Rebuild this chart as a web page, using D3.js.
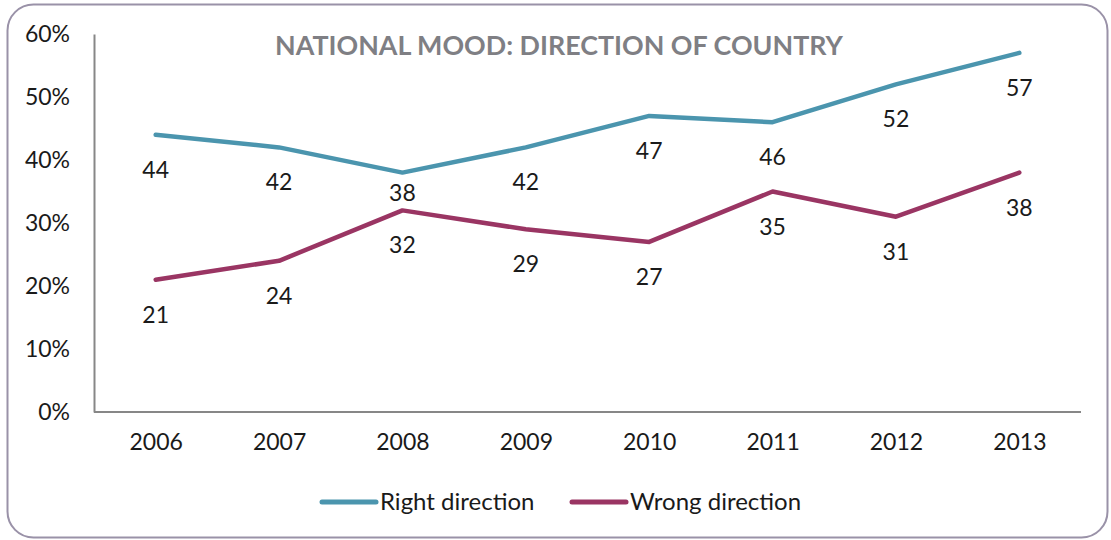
<!DOCTYPE html>
<html><head><meta charset="utf-8">
<script src="https://cdn.jsdelivr.net/npm/d3@7"></script>
<style>body{margin:0;background:#fff}svg{display:block}text{font-family:Lato,"Open Sans",sans-serif}</style>
</head><body><svg id="c" width="1111" height="540"></svg>
<script>
const years = ["2006","2007","2008","2009","2010","2011","2012","2013"];
const rightDirection = [44,42,38,42,47,46,52,57];
const wrongDirection = [21,24,32,29,27,35,31,38];
const yTicks = [0,10,20,30,40,50,60];
const seriesNames = ["Right direction","Wrong direction"];
const colors = ["#4B95AE","#9A3563"];
const title = "NATIONAL MOOD: DIRECTION OF COUNTRY";

const svg = d3.select("#c");
svg.append("rect").attr("x",7.5).attr("y",4.5).attr("width",1100).attr("height",533).attr("rx",26)
  .attr("fill","#fff").attr("stroke","#9A92A8").attr("stroke-width",2);

const x = d3.scalePoint().domain(years).range([94,1081]).padding(0.5);
const y = d3.scaleLinear().domain([0,60]).range([412,34]);
const fs = 23;

const yAxis = svg.append("g").attr("transform","translate(94,0)")
  .call(d3.axisLeft(y).tickValues(yTicks).tickFormat(d=>d+"%").tickSize(0).tickPadding(24));
yAxis.select(".domain").attr("stroke","#878787").attr("stroke-width",2);
yAxis.selectAll("text").attr("font-size",fs).attr("fill","#1a1a1a").attr("font-family","Lato");

const xAxis = svg.append("g").attr("transform","translate(0,412)")
  .call(d3.axisBottom(x).tickSize(0).tickPadding(22));
xAxis.select(".domain").attr("stroke","#878787").attr("stroke-width",2).attr("d","M94,0H1081");
xAxis.selectAll("text").attr("font-size",fs).attr("fill","#1a1a1a").attr("font-family","Lato");

svg.append("text").attr("x",559).attr("y",55).attr("text-anchor","middle")
  .attr("font-size",26).attr("font-weight","bold").attr("fill","#7F7F84")
  .attr("textLength",568).attr("lengthAdjust","spacingAndGlyphs").text(title);

const series = [rightDirection, wrongDirection];
const line = d3.line().x((d,i)=>x(years[i])).y(d=>y(d));
series.forEach((s,k)=>{
  const other = series[1-k];
  svg.append("path").datum(s).attr("d",line).attr("fill","none")
    .attr("stroke",colors[k]).attr("stroke-width",4.5).attr("stroke-linejoin","round").attr("stroke-linecap","round");
  svg.append("g").selectAll("text").data(s).join("text")
    .attr("x",(d,i)=>x(years[i]))
    .attr("y",(d,i)=>{
      const gap = y(other[i]) - y(d);
      const off = (gap > 0 && gap < 50) ? 20 : 35;
      return y(d)+off;
    })
    .attr("dy","0.35em")
    .attr("text-anchor","middle").attr("font-size",fs).attr("fill","#1a1a1a").text(d=>d);
});

const legendX = [322,572];
seriesNames.forEach((n,k)=>{
  svg.append("line").attr("x1",legendX[k]).attr("x2",legendX[k]+54).attr("y1",502).attr("y2",502)
    .attr("stroke",colors[k]).attr("stroke-width",5).attr("stroke-linecap","round");
  svg.append("text").attr("x",legendX[k]+58).attr("y",502).attr("dy","0.35em")
    .attr("font-size",24).attr("fill","#1a1a1a").text(n);
});
</script></body></html>
